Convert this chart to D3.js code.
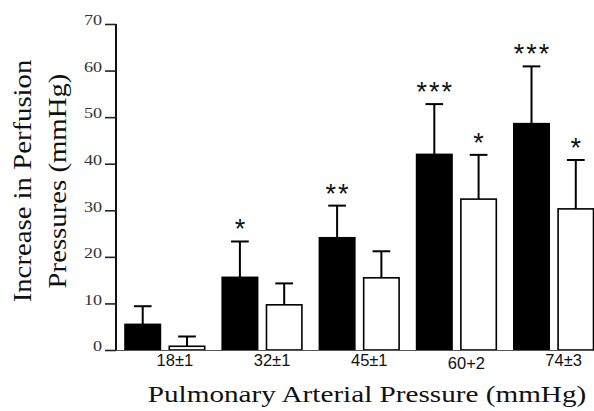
<!DOCTYPE html>
<html>
<head>
<meta charset="utf-8">
<script src="https://cdn.jsdelivr.net/npm/d3@7"></script>
<style>
  body { margin: 0; background: #fff; }
  svg { display: block; }
</style>
</head>
<body>
<main></main>
<script>
const width = 594;
const height = 411;

// data
const groups = ['18±1', '32±1', '45±1', '60+2', '74±3'];
const blackMeans = [5.5, 15.6, 24.1, 42.0, 48.6];
const blackSE = [3.9, 7.7, 6.9, 10.8, 12.3];
const whiteMeans = [0.8, 9.7, 15.5, 32.4, 30.3];
const whiteSE = [2.1, 4.6, 5.7, 9.5, 10.5];
const blackStars = ['', '*', '**', '***', '***'];
const whiteStars = ['', '', '', '*', '*'];
const yTicks = [0, 10, 20, 30, 40, 50, 60, 70];

const series = [
    {key: 'black', fill: '#000', means: blackMeans, se: blackSE, stars: blackStars},
    {key: 'white', fill: '#fff', means: whiteMeans, se: whiteSE, stars: whiteStars}
];

const serif = "'Liberation Serif', 'Times New Roman', serif";
const sans = "'Liberation Sans', Arial, sans-serif";

const createSvg = () => {
    return d3.select('main')
             .append('svg')
             .attr('width', width)
             .attr('height', height)
}

const createScales = () => {
    const xScale = d3.scaleBand().domain(groups).range([125, 593.5]).paddingInner(0.18).paddingOuter(0);
    const subScale = d3.scaleBand().domain(series.map((s) => s.key)).range([0, xScale.bandwidth()]).paddingInner(0.2);
    const yScale = d3.scaleLinear().domain([0, 70]).range([350, 24]);
    return {xScale, subScale, yScale};
}

const createAxis = (svg, scales) => {
    // y axis, ticks to the left, labels sit on the tick line
    const yAxis = svg.append('g')
       .attr('transform', 'translate(116,0)')
       .call(d3.axisLeft(scales.yScale).tickValues(yTicks).tickSize(11).tickFormat(d3.format('d')))
    yAxis.select('.domain').attr('stroke', '#111').attr('stroke-width', 2).attr('d', 'M0,' + scales.yScale(70) + 'V' + scales.yScale(0))
    yAxis.selectAll('line').attr('stroke', '#222').attr('stroke-width', 1.6)
    yAxis.selectAll('text')
         .attr('x', 0)
         .attr('dy', '0.05em')
         .attr('transform', 'translate(-14,0) scale(1.25,1)')
         .attr('font-family', serif)
         .attr('font-size', 14.5)
         .attr('fill', '#333')

    // baseline
    svg.append('line')
       .attr('x1', 116).attr('x2', 594)
       .attr('y1', scales.yScale(0) + 0.5).attr('y2', scales.yScale(0) + 0.5)
       .attr('stroke', '#555').attr('stroke-width', 1.2)

    // category labels, a little right of the group centres
    svg.append('g')
       .selectAll('text')
       .data(groups)
       .enter()
       .append('text')
       .attr('x', (d) => scales.xScale(d) + scales.xScale.bandwidth() / 2 + 10)
       .attr('y', (d) => d === '60+2' ? 369 : 366)
       .attr('text-anchor', 'middle')
       .attr('font-family', sans)
       .attr('font-size', 16.5)
       .attr('fill', '#111')
       .text((d) => d)

    svg.append('text')
       .attr('transform', 'translate(367,402) scale(1.27,1)')
       .attr('text-anchor', 'middle')
       .attr('font-family', serif)
       .attr('font-size', 23)
       .attr('fill', '#111')
       .text('Pulmonary Arterial Pressure (mmHg)')

    const title = svg.append('text')
       .attr('transform', 'translate(0,181) rotate(-90) scale(1.15,1)')
       .attr('text-anchor', 'middle')
       .attr('font-family', serif)
       .attr('font-size', 25)
       .attr('fill', '#111')
    title.append('tspan').attr('x', 0).attr('y', 31).text('Increase in Perfusion')
    title.append('tspan').attr('x', 0).attr('y', 66).text('Pressures (mmHg)')
}

const createBars = (svg, scales) => {
    const g = svg.append('g')
    series.forEach((s) => {
        const bx = (i) => scales.xScale(groups[i]) + scales.subScale(s.key);
        const bw = scales.subScale.bandwidth();
        const sg = g.append('g').attr('class', 'series-' + s.key);

        // error bars first so the bar covers the foot of the whisker
        sg.selectAll('line.err')
          .data(s.means)
          .enter()
          .append('line')
          .attr('class', 'err')
          .attr('x1', (d, i) => bx(i) + bw / 2)
          .attr('x2', (d, i) => bx(i) + bw / 2)
          .attr('y1', (d) => scales.yScale(d))
          .attr('y2', (d, i) => scales.yScale(d + s.se[i]))
          .attr('stroke', '#000')
          .attr('stroke-width', 2)

        sg.selectAll('line.cap')
          .data(s.means)
          .enter()
          .append('line')
          .attr('class', 'cap')
          .attr('x1', (d, i) => bx(i) + bw / 4)
          .attr('x2', (d, i) => bx(i) + bw * 3 / 4)
          .attr('y1', (d, i) => scales.yScale(d + s.se[i]))
          .attr('y2', (d, i) => scales.yScale(d + s.se[i]))
          .attr('stroke', '#000')
          .attr('stroke-width', 2)

        sg.selectAll('rect')
          .data(s.means)
          .enter()
          .append('rect')
          .attr('x', (d, i) => bx(i))
          .attr('y', (d) => scales.yScale(d))
          .attr('width', bw)
          .attr('height', (d) => scales.yScale(0) - scales.yScale(d))
          .attr('fill', s.fill)
          .attr('stroke', '#000')
          .attr('stroke-width', 1.6)

        sg.selectAll('text')
          .data(s.stars)
          .enter()
          .append('text')
          .attr('x', (d, i) => bx(i) + bw / 2 + 1)
          .attr('y', (d, i) => scales.yScale(s.means[i] + s.se[i]) - 3)
          .attr('text-anchor', 'middle')
          .attr('font-family', sans)
          .attr('font-size', 27)
          .attr('letter-spacing', 2)
          .attr('fill', '#111')
          .text((d) => d)
    })
}

const driver = () => {
    const svg = createSvg();
    const scales = createScales();
    createBars(svg, scales);
    createAxis(svg, scales);
}
driver();
</script>
</body>
</html>
